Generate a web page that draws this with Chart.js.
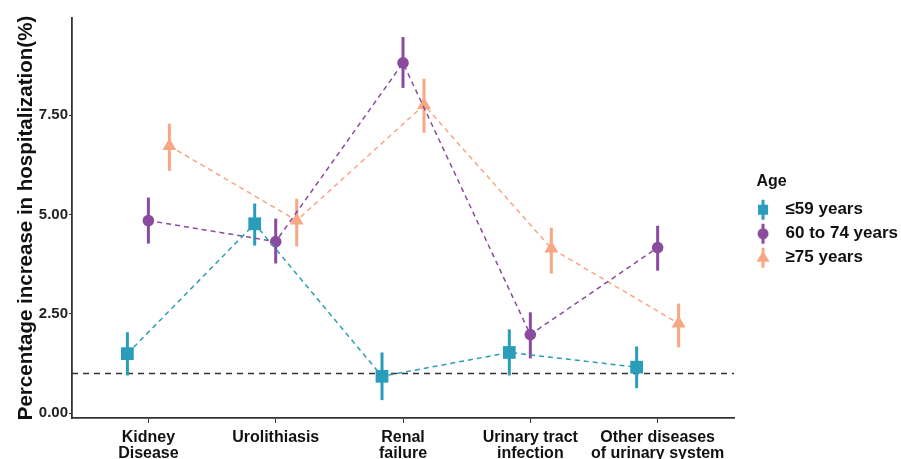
<!DOCTYPE html>
<html lang="en">
  <head>
    <meta charset="UTF-8" />
    <title>Hospitalization by age</title>
    <script src="https://cdn.jsdelivr.net/npm/chart.js@4"></script>
    <style>
      body { margin: 0; background: #fff; }
      #wrap { width: 901px; height: 459px; }
    </style>
  </head>
  <body>
    <div id="wrap"><canvas id="chart"></canvas></div>

    <script>
      const categories = [
        ["Kidney", "Disease"],
        ["Urolithiasis"],
        ["Renal", "failure"],
        ["Urinary tract", "infection"],
        ["Other diseases", "of urinary system"],
      ];
      const ageGroups = ["\u226459 years", "60 to 74 years", "\u226575 years"];

      // point estimates and error bar limits, per age group
      const young = [1.5, 4.77, 0.93, 1.53, 1.16];
      const youngLo = [0.95, 4.22, 0.33, 0.95, 0.63];
      const youngHi = [2.04, 5.28, 1.53, 2.11, 1.68];

      const middle = [4.85, 4.32, 8.82, 1.98, 4.17];
      const middleLo = [4.27, 3.77, 8.19, 1.38, 3.59];
      const middleHi = [5.43, 4.9, 9.47, 2.54, 4.72];

      const old = [6.73, 4.85, 7.76, 4.15, 2.26];
      const oldLo = [6.1, 4.2, 7.06, 3.52, 1.66];
      const oldHi = [7.29, 5.4, 8.42, 4.67, 2.76];

      const yTicks = [0, 2.5, 5, 7.5];
      const refLine = 1;

      const colors = ["#2a9dbb", "#8a4b9f", "#f7a783"];
      const shapes = ["rect", "circle", "triangle"];
      const radii = [9, 5.8, 8];
      const dodge = [-0.165, 0, 0.165];

      const series = [
        { v: young, lo: youngLo, hi: youngHi },
        { v: middle, lo: middleLo, hi: middleHi },
        { v: old, lo: oldLo, hi: oldHi },
      ];

      const datasets = series.map((s, i) => ({
        label: ageGroups[i],
        data: s.v.map((y, j) => ({ x: j + dodge[i], y })),
        lo: s.lo,
        hi: s.hi,
        borderColor: colors[i],
        backgroundColor: colors[i],
        borderWidth: 1.5,
        borderDash: [5, 4],
        pointStyle: shapes[i],
        pointRadius: radii[i],
        pointBorderWidth: 0,
        pointBackgroundColor: colors[i],
        tension: 0,
      }));

      // legend key: error bar with marker, drawn right of centre in its box
      const legendIcon = (i) => {
        const c = document.createElement("canvas");
        c.width = 26;
        c.height = 22;
        const g = c.getContext("2d");
        const cx = 17;
        g.strokeStyle = colors[i];
        g.fillStyle = colors[i];
        g.lineWidth = 3;
        g.beginPath();
        g.moveTo(cx, 1);
        g.lineTo(cx, 21);
        g.stroke();
        g.beginPath();
        if (i === 0) g.rect(cx - 5, 6, 10, 10);
        else if (i === 1) g.arc(cx, 11, 5.5, 0, Math.PI * 2);
        else {
          g.moveTo(cx, 4);
          g.lineTo(cx + 6.5, 15);
          g.lineTo(cx - 6.5, 15);
          g.closePath();
        }
        g.fill();
        return c;
      };

      const errorBars = {
        id: "errorBars",
        beforeDatasetsDraw(chart) {
          const { ctx, chartArea, scales } = chart;
          const x = scales.x;
          const y = scales.y;
          ctx.save();
          // reference line
          ctx.strokeStyle = "#333";
          ctx.lineWidth = 1.6;
          ctx.setLineDash([6, 5]);
          ctx.beginPath();
          ctx.moveTo(chartArea.left, y.getPixelForValue(refLine));
          ctx.lineTo(chartArea.right, y.getPixelForValue(refLine));
          ctx.stroke();
          ctx.setLineDash([]);
          chart.data.datasets.forEach((ds) => {
            ctx.strokeStyle = ds.borderColor;
            ctx.lineWidth = 3;
            ds.data.forEach((p, j) => {
              const px = x.getPixelForValue(p.x);
              ctx.beginPath();
              ctx.moveTo(px, y.getPixelForValue(ds.lo[j]));
              ctx.lineTo(px, y.getPixelForValue(ds.hi[j]));
              ctx.stroke();
            });
          });
          ctx.restore();
        },
      };

      const font = { family: "'Liberation Sans', Arial, sans-serif", weight: "bold" };

      new Chart(document.getElementById("chart"), {
        type: "line",
        data: { datasets },
        plugins: [errorBars],
        options: {
          responsive: true,
          maintainAspectRatio: false,
          animation: false,
          layout: { padding: { top: 18, right: -7, left: 14, bottom: 0 } },
          plugins: {
            tooltip: { enabled: false },
            legend: {
              position: "right",
              align: "start",
              title: {
                display: true,
                // leading spaces line the title up over the legend keys
                text: "\u2003\u2009\u2009Age",
                position: "start",
                color: "#111",
                font: { ...font, size: 16 },
                padding: { top: 156, bottom: 1 },
              },
              labels: {
                color: "#111",
                font: { ...font, size: 17 },
                usePointStyle: true,
                pointStyleWidth: 36,
                padding: 7,
                generateLabels: (chart) =>
                  chart.data.datasets.map((ds, i) => ({
                    text: ds.label,
                    pointStyle: legendIcon(i),
                    fillStyle: colors[i],
                    strokeStyle: colors[i],
                    lineWidth: 0,
                    datasetIndex: i,
                  })),
              },
            },
          },
          scales: {
            x: {
              type: "linear",
              min: -0.6,
              max: 4.6,
              afterBuildTicks: (s) => {
                s.ticks = categories.map((c, i) => ({ value: i }));
              },
              afterFit: (s) => {
                s.height = 41;
              },
              ticks: {
                color: "#111",
                font: { ...font, size: 16, lineHeight: 1.0 },
                padding: 7,
                maxRotation: 0,
                autoSkip: false,
                callback: (v) => categories[v],
              },
              grid: {
                display: true,
                drawOnChartArea: false,
                tickLength: 5,
                color: "#333",
              },
              border: { display: true, color: "#333", width: 1.8 },
            },
            y: {
              min: -0.12,
              max: 9.95,
              afterBuildTicks: (s) => {
                s.ticks = yTicks.map((v) => ({ value: v }));
              },
              afterFit: (s) => {
                s.width = 58;
              },
              title: {
                display: true,
                text: "Percentage increase in hospitalization(%)",
                color: "#111",
                font: { ...font, size: 20.5 },
                padding: { top: 0, bottom: 1 },
              },
              ticks: {
                color: "#222",
                font: { ...font, size: 15 },
                padding: 1,
                callback: (v) => v.toFixed(2),
              },
              grid: {
                display: true,
                drawOnChartArea: false,
                tickLength: 3,
                color: "#333",
              },
              border: { display: true, color: "#333", width: 1.8 },
            },
          },
        },
      });
    </script>
  </body>
</html>
